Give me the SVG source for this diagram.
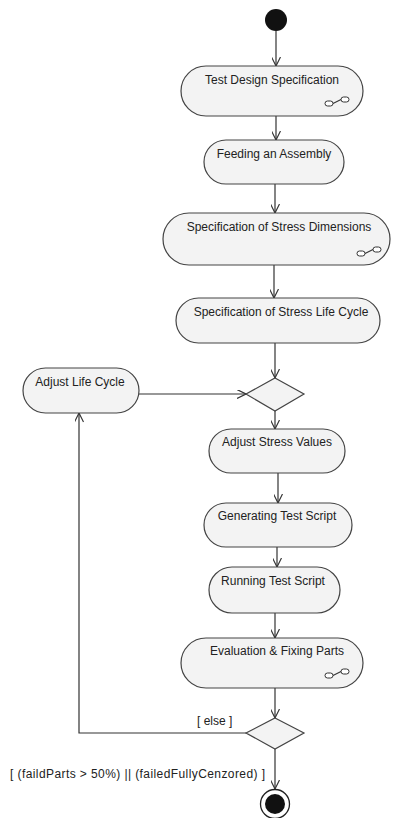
<svg xmlns="http://www.w3.org/2000/svg" width="393" height="818" viewBox="0 0 393 818">
<style>
.act{fill:#f3f3f3;stroke:#444;stroke-width:1.2}
.t{font-family:"Liberation Sans",Arial,sans-serif;font-size:12px;fill:#222;text-anchor:middle}
.g{font-family:"Liberation Sans",Arial,sans-serif;font-size:12px;fill:#222}
.c{fill:none;stroke:#333;stroke-width:1.2}
.ic{fill:#fff;stroke:#333;stroke-width:1}
</style>
<defs>
<marker id="arr" viewBox="0 0 10 10" refX="10" refY="5" markerWidth="10" markerHeight="9" orient="auto" markerUnits="userSpaceOnUse">
<path d="M0,0 L10,5 L0,10" fill="none" stroke="#333" stroke-width="1.3"/>
</marker>
<g id="sub">
<rect x="0" y="4" width="8" height="5" rx="2.5" class="ic"/>
<rect x="16" y="0" width="8" height="5" rx="2.5" class="ic"/>
<path d="M8,6.5 L16,2.5" class="c" stroke-width="1"/>
</g>
</defs>
<g id="connectors">
<path class="c" d="M276,31 V66" marker-end="url(#arr)"/>
<path class="c" d="M276,116 V140" marker-end="url(#arr)"/>
<path class="c" d="M275,184 V213" marker-end="url(#arr)"/>
<path class="c" d="M274,265 V298" marker-end="url(#arr)"/>
<path class="c" d="M275,343 V378" marker-end="url(#arr)"/>
<path class="c" d="M139,394 H246" marker-end="url(#arr)"/>
<path class="c" d="M275,411 V429" marker-end="url(#arr)"/>
<path class="c" d="M278,473 V503" marker-end="url(#arr)"/>
<path class="c" d="M277,547 V567" marker-end="url(#arr)"/>
<path class="c" d="M275,613 V638" marker-end="url(#arr)"/>
<path class="c" d="M275,688 V718" marker-end="url(#arr)"/>
<path class="c" d="M246,733 H79 V413" marker-end="url(#arr)"/>
<path class="c" d="M275,749 V789" marker-end="url(#arr)"/>
<text class="g" x="197" y="725">[ else ]</text>
<text class="g" x="10" y="778" textLength="255" lengthAdjust="spacing">[ (faildParts &gt; 50%) || (failedFullyCenzored) ]</text>
</g>
<g id="start"><circle cx="276" cy="20" r="11" fill="#111"/></g>
<g id="n1"><rect class="act" x="181" y="66" width="182" height="50" rx="25"/><text class="t" x="272" y="84">Test Design Specification</text><use href="#sub" x="325" y="97"/></g>
<g id="n2"><rect class="act" x="204" y="140" width="140" height="44" rx="22"/><text class="t" x="274" y="158">Feeding an Assembly</text></g>
<g id="n3"><rect class="act" x="163" y="213" width="227" height="52" rx="26"/><text class="t" x="279" y="231">Specification of Stress Dimensions</text><use href="#sub" x="357" y="247"/></g>
<g id="n4"><rect class="act" x="176" y="298" width="204" height="45" rx="22.5"/><text class="t" x="281" y="316">Specification of Stress Life Cycle</text></g>
<g id="d1"><path class="act" d="M275,378 L304,394 L275,411 L246,394 Z"/></g>
<g id="n5"><rect class="act" x="23" y="368" width="116" height="45" rx="22.5"/><text class="t" x="80" y="386">Adjust Life Cycle</text></g>
<g id="n6"><rect class="act" x="209" y="429" width="136" height="44" rx="22"/><text class="t" x="277" y="446">Adjust Stress Values</text></g>
<g id="n7"><rect class="act" x="204" y="503" width="148" height="44" rx="22"/><text class="t" x="277" y="520">Generating Test Script</text></g>
<g id="n8"><rect class="act" x="209" y="567" width="131" height="46" rx="23"/><text class="t" x="273" y="585">Running Test Script</text></g>
<g id="n9"><rect class="act" x="181" y="638" width="182" height="50" rx="25"/><text class="t" x="277" y="655">Evaluation &amp; Fixing Parts</text><use href="#sub" x="325" y="669"/></g>
<g id="d2"><path class="act" d="M275,718 L304,733 L275,749 L246,733 Z"/></g>
<g id="end"><circle cx="275" cy="804" r="14.5" fill="#fff" stroke="#222" stroke-width="1.3"/><circle cx="275" cy="804" r="10" fill="#111"/></g>
</svg>
